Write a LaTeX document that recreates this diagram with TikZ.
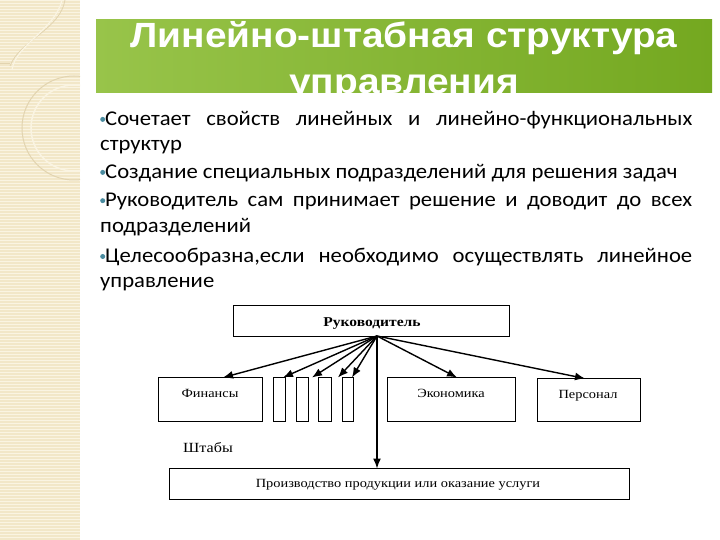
\documentclass[tikz,border=0pt]{standalone}
\usepackage{fontspec}
\setmainfont{Liberation Serif}
\newfontfamily\diagfont[FakeStretch=1.15]{Liberation Serif}
\newfontfamily\titlefont[FakeStretch=1.11]{Liberation Sans}
\newfontfamily\bodyfont[FakeStretch=1.08]{Carlito}
\usetikzlibrary{arrows.meta}
\definecolor{beige}{RGB}{242,231,200}
\definecolor{beigeline}{RGB}{250,244,226}
\definecolor{deco}{RGB}{226,212,176}
\definecolor{gleft}{RGB}{152,196,74}
\definecolor{gright}{RGB}{116,168,32}
\definecolor{bul}{RGB}{74,140,160}
\tikzset{
  box/.style={draw=black, line width=1.1pt, inner sep=0pt},
  conn/.style={line width=1.4pt, -{Latex[length=10pt,width=8pt]}},
  lbl/.style={font=\diagfont\fontsize{12.5}{14}\selectfont, inner sep=0pt, anchor=base},
  para/.style={anchor=north west, inner sep=0pt, text width=592pt, align=justify,
    font=\bodyfont\fontsize{21}{25.5}\selectfont},
  ttl/.style={inner sep=0pt, text=white, font=\titlefont\bfseries\fontsize{35}{42}\selectfont, anchor=base},
}
\newcommand{\bdot}{\tikz[baseline=-6pt]\fill[bul] (0,0) circle (2.5pt);}
\begin{document}
\begin{tikzpicture}[x=1pt,y=-1pt]
\useasboundingbox (0,0) rectangle (720,540);
\fill[white] (0,0) rectangle (720,540);
% left band
\fill[beige] (0,0) rectangle (80,540);
\foreach \yy in {0,3,...,540} \draw[beigeline, line width=0.8pt] (0,\yy) -- (80,\yy);
\begin{scope}
\clip (0,0) rectangle (80,540);
\draw[deco, line width=0.8pt] (0,63) -- (10,63);
\draw[deco, line width=0.8pt] (65,0) .. controls (60,30) and (20,40) .. (10,66);
\draw[beigeline, line width=1.2pt] (62,0) .. controls (55,30) and (15,45) .. (12,70);
\draw[deco, line width=1pt] (74,128) circle (52);
\draw[beigeline, line width=1.5pt] (74,128) circle (43);
\end{scope}
% title bar
\shade[left color=gleft, right color=gright] (96,20) rectangle (712,93);
\begin{scope}
\clip (96,20) rectangle (712,93);
\node[ttl] (title1) at (404,48) {Линейно-штабная структура};
\node[ttl] (title2) at (404,94) {управления};
\end{scope}
% bullets
\node[para] (b1) at (100,111) {\bdot Сочетает свойств линейных и линейно-функциональных\linebreak структур};
\node[para] (b2) at (100,164) {\bdot Создание специальных подразделений для решения задач};
\node[para] (b3) at (100,193) {\bdot Руководитель сам принимает решение и доводит до всех\linebreak подразделений};
\node[para] (b4) at (100,248) {\bdot Целесообразна,если необходимо осуществлять линейное\linebreak управление};
% diagram
\node[box, minimum width=276pt, minimum height=31pt, anchor=north west] (ruk) at (233,305) {};
\node[lbl, font=\diagfont\bfseries\fontsize{13.5}{15}\selectfont] (rukt) at (372,326) {Руководитель};
\node[box, minimum width=104pt, minimum height=44pt, anchor=north west] (fin) at (158,377) {};
\node[lbl] (fint) at (210,397) {Финансы};
\node[box, minimum width=12pt, minimum height=44pt, anchor=north west] (s1) at (273,377) {};
\node[box, minimum width=12pt, minimum height=44pt, anchor=north west] (s2) at (296,377) {};
\node[box, minimum width=13pt, minimum height=44pt, anchor=north west] (s3) at (318,377) {};
\node[box, minimum width=11pt, minimum height=44pt, anchor=north west] (s4) at (342,377) {};
\node[box, minimum width=128pt, minimum height=44pt, anchor=north west] (eco) at (387,377) {};
\node[lbl] (ecot) at (451,397) {Экономика};
\node[box, minimum width=103pt, minimum height=43pt, anchor=north west] (per) at (537,378) {};
\node[lbl] (pert) at (588,398) {Персонал};
\node[lbl, font=\diagfont\fontsize{14}{16}\selectfont] (sht) at (208,452) {Штабы};
\node[box, minimum width=460pt, minimum height=31pt, anchor=north west] (prod) at (169,468) {};
\node[lbl] (prodt) at (398,487) {Производство продукции или оказание услуги};
\coordinate (src) at (377,336);
\draw[conn] (src) -- (223,377.5);
\draw[conn] (src) -- (283,377.5);
\draw[conn] (src) -- (312,377.5);
\draw[conn] (src) -- (338,377.5);
\draw[conn] (src) -- (352,377.5);
\draw[conn] (src) -- (457,377.5);
\draw[conn] (src) -- (585,378.5);
\draw[conn] (src) -- (377,468.5);
\end{tikzpicture}
\end{document}
